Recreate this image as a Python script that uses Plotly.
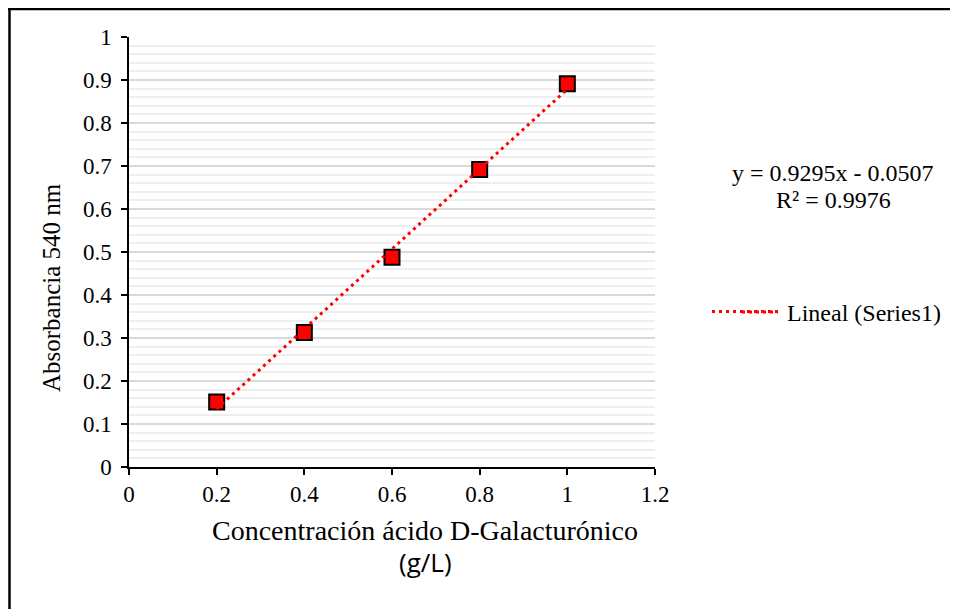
import numpy as np
import plotly.graph_objects as go

# Data
conc = [0.2, 0.4, 0.6, 0.8, 1.0]
absorb = [0.151, 0.313, 0.488, 0.692, 0.891]

x_ticks = [0, 0.2, 0.4, 0.6, 0.8, 1.0, 1.2]
x_ticklabels = ["0", "0.2", "0.4", "0.6", "0.8", "1", "1.2"]
y_ticks = [0, 0.1, 0.2, 0.3, 0.4, 0.5, 0.6, 0.7, 0.8, 0.9, 1.0]
y_ticklabels = ["0", "0.1", "0.2", "0.3", "0.4", "0.5", "0.6", "0.7", "0.8", "0.9", "1"]

eq_line1 = "y = 0.9295x - 0.0507"
eq_line2 = "R² = 0.9976"
x_title1 = "Concentración ácido D-Galacturónico"
x_title2 = "(g/L)"
y_title = "Absorbancia 540 nm"

# Linear trendline from the data
slope, intercept = np.polyfit(conc, absorb, 1)
trend_x = [min(conc), max(conc)]
trend_y = [slope * v + intercept for v in trend_x]

# The page body adds an 8px offset, so the figure is 950x601
W, H = 950, 601
L, T = 121, 29
pw, ph = 526, 430
R, B = W - L - pw, H - T - ph

def px(xp):
    return (xp - L) / pw

def py(yp):
    return 1 - (yp - T) / ph

SERIF = "Liberation Serif, Times New Roman, serif"
SANS = "Open Sans, sans-serif"
DASH = "3px,4px"

fig = go.Figure()
fig.add_trace(go.Scatter(
    x=conc, y=absorb, mode="markers", name="Series1", showlegend=False,
    marker=dict(symbol="square", size=15, color="#ff0000",
                line=dict(color="#000000", width=2)),
))
fig.add_trace(go.Scatter(
    x=trend_x, y=trend_y, mode="lines", name="Lineal (Series1)",
    line=dict(color="#ff0000", width=3, dash=DASH),
))

fig.update_layout(
    width=W, height=H,
    margin=dict(l=L, r=R, t=T, b=B),
    paper_bgcolor="white", plot_bgcolor="white",
    font=dict(family=SERIF, size=23, color="#000000"),
    showlegend=True,
    legend=dict(x=px(699), y=py(304), xanchor="left", yanchor="middle",
                itemwidth=70, borderwidth=0,
                bgcolor="rgba(0,0,0,0)", font=dict(size=24, family=SERIF)),
    xaxis=dict(range=[0, 1.2], tickvals=x_ticks, ticktext=x_ticklabels,
               showgrid=False, zeroline=False, showline=True,
               linecolor="#000000", linewidth=1.5, ticks="outside",
               ticklen=6, tickwidth=1.5, tickcolor="#000000",
               tickfont=dict(size=23, family=SERIF)),
    yaxis=dict(range=[0, 1.0], tickvals=y_ticks, ticktext=y_ticklabels,
               showgrid=True, gridcolor="#d9d9d9", gridwidth=1.5,
               zeroline=False, showline=True,
               linecolor="#000000", linewidth=1.5, ticks="outside",
               ticklen=6, tickwidth=1.5, tickcolor="#000000",
               ticklabelstandoff=5,
               tickfont=dict(size=23, family=SERIF),
               minor=dict(dtick=0.02, showgrid=True, gridcolor="#eeeeee",
                          gridwidth=1.5, ticks="")),
)

# Extend the legend line sample to the reference's longer sample
fig.add_shape(type="line", xref="paper", yref="paper",
              x0=px(734), x1=px(770), y0=py(304), y1=py(304),
              line=dict(color="#ff0000", width=3, dash=DASH))

def note(xp, yp, text, size, family, angle=0):
    fig.add_annotation(x=px(xp), y=py(yp), xref="paper", yref="paper",
                       xanchor="center", yanchor="middle",
                       text=text, textangle=angle, showarrow=False,
                       font=dict(size=size, family=family, color="#000000"))

note(825, 165, eq_line1, 24, SERIF)
note(825, 192, eq_line2, 24, SERIF)
note(417, 522, x_title1, 28, SERIF)
note(417, 554, x_title2, 26, SANS)
note(43, 280, y_title, 25, SERIF, angle=-90)

# Outer frame
fig.add_shape(type="line", xref="paper", yref="paper",
              x0=px(1.5), x1=px(1.5), y0=py(0), y1=py(700),
              line=dict(color="#000000", width=2.5))
fig.add_shape(type="line", xref="paper", yref="paper",
              x0=px(0), x1=px(1000), y0=py(1), y1=py(1),
              line=dict(color="#000000", width=2.5))

fig.write_html("out.html")
